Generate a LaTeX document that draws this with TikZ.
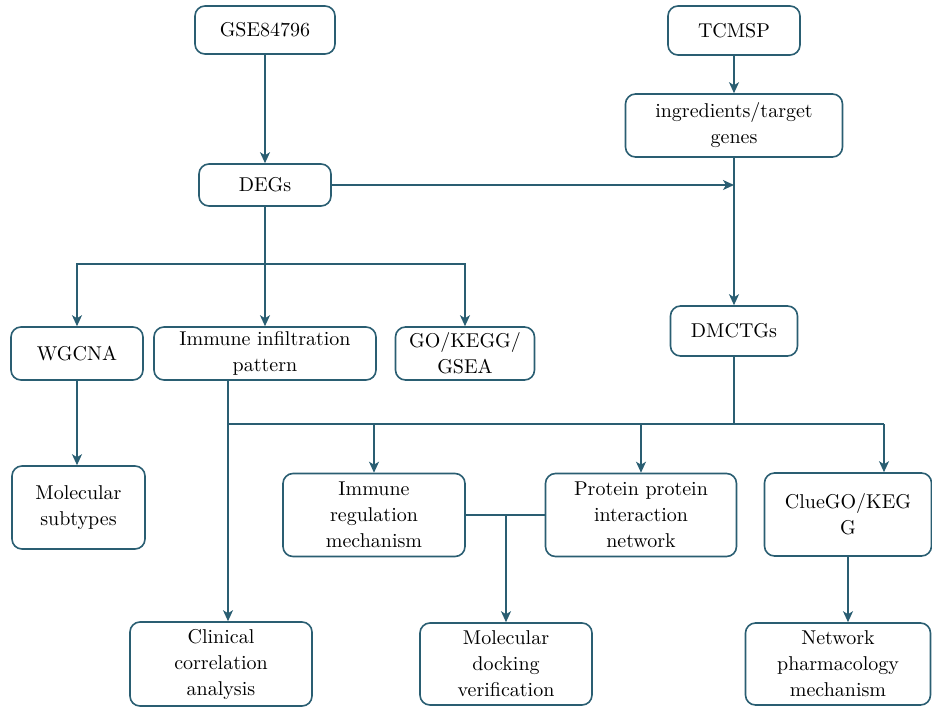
\documentclass[tikz,border=0pt]{standalone}
\usetikzlibrary{arrows.meta}
\definecolor{flowline}{RGB}{42,94,114}
\tikzset{
  box/.style={draw=flowline, line width=0.8pt, rounded corners=5pt, align=center,
    inner sep=2pt, font=\fontsize{10}{13}\selectfont},
  flow/.style={draw=flowline, line width=0.75pt},
  tip/.style={flow, -{Stealth[length=5.5pt,width=5pt,inset=1.5pt]}}
}
\begin{document}
\begin{tikzpicture}[x=0.5pt,y=-0.5pt]
	\useasboundingbox (0,0) rectangle (932,707);
	% top row
	\node[box, minimum width=70pt, minimum height=24pt] (gse) at (265,30) {GSE84796};
	\node[box, minimum width=66pt, minimum height=24.5pt] (tcmsp) at (734,30.5) {TCMSP};
	\node[box, minimum width=108.5pt, minimum height=31.5pt] (ingr) at (734,125.5) {ingredients/target\\genes};
	\node[box, minimum width=66pt, minimum height=21pt] (degs) at (265,185) {DEGs};
	\node[box, minimum width=63.5pt, minimum height=25pt] (dmctgs) at (734,331) {DMCTGs};
	% second row
	\node[box, minimum width=66pt, minimum height=26.5pt] (wgcna) at (77,353.5) {WGCNA};
	\node[box, minimum width=111pt, minimum height=26.5pt] (infil) at (265,353.5) {Immune infiltration\\pattern};
	\node[box, minimum width=69.5pt, minimum height=26.5pt] (gokegg) at (465,353.5) {GO/KEGG/\\GSEA};
	% third row
	\node[box, minimum width=66.5pt, minimum height=41.5pt] (subtypes) at (78.5,507.5) {Molecular\\subtypes};
	\node[box, minimum width=91pt, minimum height=41.5pt] (immreg) at (374,515) {Immune\\regulation\\mechanism};
	\node[box, minimum width=95.5pt, minimum height=41.5pt] (ppi) at (641,515) {Protein protein\\interaction\\network};
	\node[box, minimum width=83.5pt, minimum height=41.5pt] (cluego) at (848,514.5) {ClueGO/KEG\\G};
	% bottom row
	\node[box, minimum width=91pt, minimum height=42pt] (clinical) at (221,664) {Clinical\\correlation\\analysis};
	\node[box, minimum width=86pt, minimum height=41pt] (docking) at (506,664) {Molecular\\docking\\verification};
	\node[box, minimum width=92.5pt, minimum height=41pt] (netpharm) at (838,664) {Network\\pharmacology\\mechanism};
	% junctions
	\coordinate (split) at (265,264);
	\coordinate (drop) at (228,424);
	\coordinate (busend) at (884,424);
	\coordinate (join) at (immreg.east -| docking.north);
	% connectors
	\draw[tip] (gse) -- (degs);
	\draw[tip] (tcmsp) -- (ingr);
	\draw[tip] (ingr) -- (dmctgs);
	\draw[tip] (degs.east) -- (degs.east -| ingr.south);
	\draw[flow] (degs) -- (split);
	\draw[tip] (split) -| (wgcna.north);
	\draw[tip] (split) -- (infil);
	\draw[tip] (split) -| (gokegg.north);
	\draw[tip] (wgcna) -- (subtypes.north -| wgcna.south);
	\draw[tip] (drop |- infil.south) -- (drop |- clinical.north);
	\draw[flow] (dmctgs) -- (dmctgs |- drop);
	\draw[flow] (drop) -- (busend);
	\draw[tip] (drop -| immreg.north) -- (immreg);
	\draw[tip] (drop -| ppi.north) -- (ppi);
	\draw[tip] (busend) -- (busend |- cluego.north);
	\draw[flow] (immreg.east) -- (ppi.west);
	\draw[tip] (join) -- (docking);
	\draw[tip] (cluego) -- (cluego.south |- netpharm.north);
\end{tikzpicture}
\end{document}
